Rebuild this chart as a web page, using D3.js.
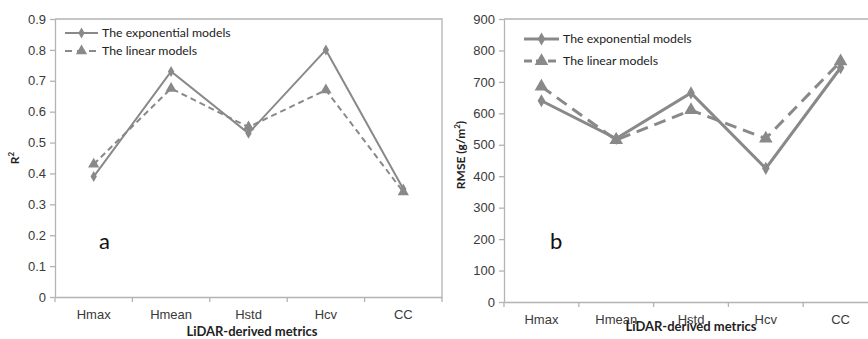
<!DOCTYPE html>
<html>
<head>
<meta charset="utf-8">
<script src="https://cdn.jsdelivr.net/npm/d3@7"></script>
<style>
  body { margin: 0; background: #fff; }
  svg { font-family: Lato, "Open Sans", sans-serif; }
</style>
</head>
<body>
<div id="chart"></div>
<script>
// categories
let metrics = ['Hmax', 'Hmean', 'Hstd', 'Hcv', 'CC'];

// panel a - R2
let r2Exp = [0.39, 0.73, 0.53, 0.80, 0.35];
let r2Lin = [0.43, 0.675, 0.55, 0.67, 0.34];
let r2Ticks = [0, 0.1, 0.2, 0.3, 0.4, 0.5, 0.6, 0.7, 0.8, 0.9];

// panel b - RMSE
let rmseExp = [640, 520, 665, 425, 745];
let rmseLin = [685, 515, 610, 520, 765];
let rmseTicks = [0, 100, 200, 300, 400, 500, 600, 700, 800, 900];

let legendNames = ['The exponential models', 'The linear models'];

let lineColor = '#898989';
let axisColor = '#b3b3b3';

let svg = d3.select('#chart').append('svg')
    .attr('width', 868)
    .attr('height', 339);

function draw_panel(opt) {
    let g = svg.append('g');

    let x = d3.scaleBand()
        .domain(metrics)
        .range([opt.left, opt.right]);
    let y = d3.scaleLinear()
        .domain([0, opt.ymax])
        .range([opt.bottom, opt.top]);

    // plot area frame (top + right)
    g.append('path')
        .attr('d', `M${opt.left},${opt.top}H${opt.right}V${opt.bottom}`)
        .attr('fill', 'none')
        .attr('stroke', axisColor)
        .attr('stroke-width', 1.3);

    // y axis
    let axis_y = d3.axisLeft(y)
        .tickValues(opt.ticks)
        .tickSize(5)
        .tickSizeOuter(0)
        .tickFormat(opt.fmt);
    let ay = g.append('g')
        .attr('transform', `translate(${opt.left}, 0)`)
        .call(axis_y);
    ay.select('.domain').attr('stroke', axisColor).attr('stroke-width', 1.3);
    ay.selectAll('line').attr('stroke', axisColor).attr('stroke-width', 1.3);
    ay.selectAll('text')
        .attr('font-size', '13px')
        .attr('fill', '#3a3a3a')
        .attr('x', -9);

    // x axis with ticks between categories
    let axis_x = d3.axisBottom(x).tickSize(0).tickSizeOuter(0);
    let ax = g.append('g')
        .attr('transform', `translate(0, ${opt.bottom})`)
        .call(axis_x);
    ax.select('.domain').attr('stroke', axisColor).attr('stroke-width', 1.3);
    ax.selectAll('text')
        .attr('font-size', '13px')
        .attr('fill', '#3a3a3a')
        .attr('dy', 0)
        .attr('y', opt.xLabelDy);
    let bounds = metrics.map(m => x(m)).concat([opt.right]);
    ax.selectAll('.sep')
        .data(bounds)
        .enter()
        .append('line')
        .attr('class', 'sep')
        .attr('x1', d => d).attr('x2', d => d)
        .attr('y1', 0).attr('y2', 5)
        .attr('stroke', axisColor)
        .attr('stroke-width', 1.3);

    // axis titles
    g.append('text')
        .attr('x', opt.xTitleX)
        .attr('y', opt.xTitleY)
        .attr('text-anchor', 'middle')
        .attr('font-size', '13px')
        .attr('font-weight', 'bold')
        .attr('fill', '#222')
        .text('LiDAR-derived metrics');

    let yt = g.append('text')
        .attr('transform', `translate(${opt.yTitleX}, ${opt.yTitleY}) rotate(-90)`)
        .attr('text-anchor', 'middle')
        .attr('font-size', '12px')
        .attr('font-weight', 'bold')
        .attr('fill', '#222');
    opt.yTitle(yt);

    // panel letter
    g.append('text')
        .attr('x', opt.letterX)
        .attr('y', opt.letterY)
        .attr('font-size', '22px')
        .attr('fill', '#111')
        .text(opt.letter);

    let cx = d => x(d) + x.bandwidth() / 2;
    let line = d3.line()
        .x((d, i) => cx(metrics[i]))
        .y(d => y(d));

    // linear (dashed, triangles)
    g.append('path')
        .datum(opt.lin)
        .attr('d', line)
        .attr('fill', 'none')
        .attr('stroke', lineColor)
        .attr('stroke-width', opt.lw)
        .attr('stroke-dasharray', opt.dash);
    // exponential (solid, diamonds)
    g.append('path')
        .datum(opt.exp)
        .attr('d', line)
        .attr('fill', 'none')
        .attr('stroke', lineColor)
        .attr('stroke-width', opt.lw);

    let tri = d3.symbol().type(d3.symbolTriangle).size(opt.triSize);
    let dia = d3.symbol().type(d3.symbolDiamond).size(opt.diaSize);

    g.append('g')
        .selectAll('path')
        .data(opt.lin)
        .enter()
        .append('path')
        .attr('d', tri)
        .attr('transform', (d, i) => `translate(${cx(metrics[i])}, ${y(d)})`)
        .attr('fill', lineColor);
    g.append('g')
        .selectAll('path')
        .data(opt.exp)
        .enter()
        .append('path')
        .attr('d', dia)
        .attr('transform', (d, i) => `translate(${cx(metrics[i])}, ${y(d)})`)
        .attr('fill', lineColor);

    // legend
    let lg = g.append('g');
    legendNames.forEach((name, i) => {
        let ly = opt.legendY + i * opt.legendGap;
        lg.append('line')
            .attr('x1', opt.legendX).attr('x2', opt.legendX + opt.legendLen)
            .attr('y1', ly).attr('y2', ly)
            .attr('stroke', lineColor)
            .attr('stroke-width', opt.lw)
            .attr('stroke-dasharray', i == 0 ? null : opt.legendDash);
        lg.append('path')
            .attr('d', i == 0 ? dia : tri)
            .attr('transform', `translate(${opt.legendX + opt.legendLen / 2}, ${ly})`)
            .attr('fill', lineColor);
        lg.append('text')
            .attr('x', opt.legendX + opt.legendLen + 4)
            .attr('y', ly)
            .attr('dy', '0.35em')
            .attr('font-size', '12.3px')
            .attr('fill', '#222')
            .text(name);
    });
}

draw_panel({
    left: 55, right: 442, top: 19, bottom: 297,
    ymax: 0.9, ticks: r2Ticks, fmt: d => d === 0 ? '0' : d3.format('.1f')(d),
    exp: r2Exp, lin: r2Lin,
    lw: 2, dash: '6,4', legendDash: '7,5',
    triSize: 55, diaSize: 35,
    xLabelDy: 22, xTitleX: 252, xTitleY: 336,
    yTitleX: 19, yTitleY: 158,
    yTitle: t => {
        t.append('tspan').text('R');
        t.append('tspan').attr('baseline-shift', 'super').attr('font-size', '8px').text('2');
    },
    letter: 'a', letterX: 99, letterY: 249,
    legendX: 65, legendY: 33, legendGap: 18, legendLen: 33
});

draw_panel({
    left: 504, right: 878, top: 19, bottom: 302,
    ymax: 900, ticks: rmseTicks, fmt: d => d,
    exp: rmseExp, lin: rmseLin,
    lw: 3, dash: '12,7', legendDash: '8,4',
    triSize: 80, diaSize: 50,
    xLabelDy: 22, xTitleX: 691, xTitleY: 331,
    yTitleX: 465, yTitleY: 155,
    yTitle: t => {
        t.append('tspan').text('RMSE (g/m');
        t.append('tspan').attr('baseline-shift', 'super').attr('font-size', '8px').text('2');
        t.append('tspan').text(')');
    },
    letter: 'b', letterX: 550, letterY: 249,
    legendX: 524, legendY: 39, legendGap: 22, legendLen: 35
});
</script>
</body>
</html>
